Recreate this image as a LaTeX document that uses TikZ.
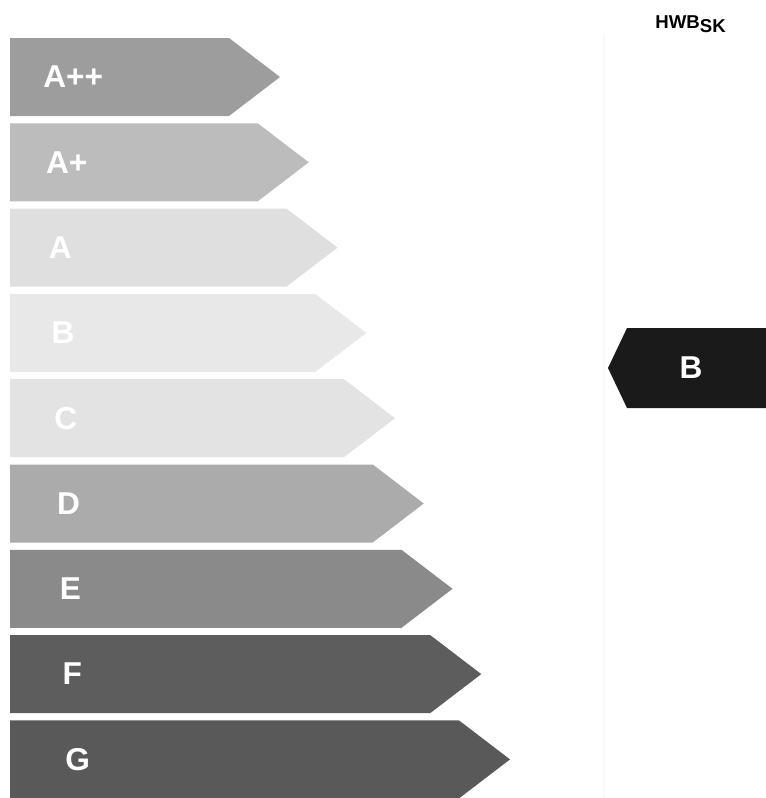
\documentclass[tikz,border=0pt]{standalone}
\usepackage{fontspec}
\setmainfont{Liberation Sans}

% Grautoene der Klassen
\definecolor{klAApp}{HTML}{9D9D9D}
\definecolor{klAAp}{HTML}{BCBCBC}
\definecolor{klA}{HTML}{DFDFDF}
\definecolor{klB}{HTML}{E8E8E8}
\definecolor{klC}{HTML}{E3E3E3}
\definecolor{klD}{HTML}{ABABAB}
\definecolor{klE}{HTML}{8A8A8A}
\definecolor{klF}{HTML}{5D5D5D}
\definecolor{klG}{HTML}{595959}
\definecolor{klMark}{HTML}{1A1A1A}

\begin{document}
\begin{tikzpicture}[x=0.02cm, y=-0.02cm,
    klassetext/.style={anchor=west, text=white, inner sep=0pt,
      font=\fontsize{18}{18}\selectfont\bfseries}]
        \useasboundingbox (0,0) rectangle (766,798);

        % feine Trennlinie der Tabelle
        \draw[gray!5, line width=1.2pt] (604,35) -- (604,798);

        % Kopf der rechten Spalte
        \node[anchor=west, inner sep=0pt, font=\fontsize{10.6}{11}\selectfont\bfseries]
          (kopf) at (655,24) {HWB\raisebox{-0.45ex}{SK}};

        % Klassenpfeile A++ bis G
        \foreach \lab/\col [count=\i from 0] in {A++/klAApp, A+/klAAp, A/klA, B/klB, C/klC, D/klD, E/klE, F/klF, G/klG} {
          \pgfmathsetmacro{\ytop}{38+85.3*\i}
          \pgfmathsetmacro{\ybot}{\ytop+78}
          \pgfmathsetmacro{\ymid}{\ytop+39}
          \pgfmathsetmacro{\xt}{280+28.75*\i}
          \pgfmathsetmacro{\xr}{\xt-51}
          \pgfmathsetmacro{\xl}{43+2.75*\i}
          \fill[\col] (10,\ytop) -- (\xr,\ytop) -- (\xt,\ymid) -- (\xr,\ybot) -- (10,\ybot) -- cycle;
          \node[klassetext] (kl\i) at (\xl,\ymid) {\lab};
        }

        % Markierung der erreichten Klasse
        \fill[klMark] (766,328) -- (627,328) -- (608,368) -- (627,408) -- (766,408) -- cycle;
        \node[klassetext, anchor=center] (wert) at (691,368) {B};

    \end{tikzpicture}
\end{document}
